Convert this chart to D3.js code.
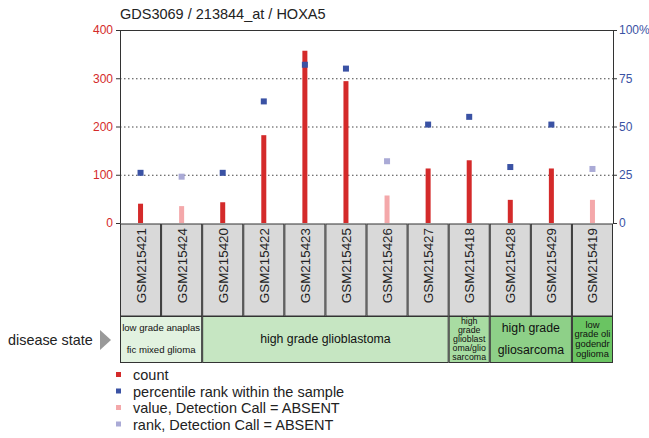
<!DOCTYPE html>
<html><head><meta charset="utf-8">
<script src="https://cdn.jsdelivr.net/npm/d3@7"></script>
<style>body{margin:0;background:#fff;font-family:"Liberation Sans",Arial,sans-serif;} text{font-family:"Liberation Sans",Arial,sans-serif;}</style>
</head><body><svg id="c" width="649" height="438"></svg>
<script>
const samples = ["GSM215421","GSM215424","GSM215420","GSM215422","GSM215423","GSM215425","GSM215426","GSM215427","GSM215418","GSM215428","GSM215429","GSM215419"];
const counts = [40,35,43,182,357,294,57,113,130,48,113,48];
const percentiles = [26,24,26,63,82,80,32,51,55,29,51,28];
const absent = [false,true,false,false,false,false,true,false,false,false,false,true];
const groups = [
  {lines:["low grade anaplas","fic mixed glioma"], n:2, fill:"#e2f2e0", size:9.6},
  {lines:["high grade glioblastoma"], n:6, fill:"#c6e6c2", size:12.3},
  {lines:["high","grade","glioblast","oma/glio","sarcoma"], n:1, fill:"#a8dca2", size:8.8},
  {lines:["high grade","gliosarcoma"], n:2, fill:"#8ed088", size:12.3},
  {lines:["low","grade oli","godendr","oglioma"], n:1, fill:"#6ac462", size:9.4}
];
const leftTicks = [0,100,200,300,400];
const rightTicks = [0,25,50,75,100];
const legendItems = [
  {label:"count", color:"#d42a2a"},
  {label:"percentile rank within the sample", color:"#3a52a4"},
  {label:"value, Detection Call = ABSENT", color:"#f4a8aa"},
  {label:"rank, Detection Call = ABSENT", color:"#aaaad6"}
];

const svg = d3.select("#c");
const L = 120, R = 613, T = 30, B = 223;
const x = d3.scaleBand().domain(samples).range([L, R]);
const y = d3.scaleLinear().domain([0,400]).range([B, T]);
const y2 = d3.scaleLinear().domain([0,100]).range([B, T]);

svg.append("text").attr("x", 120).attr("y", 19).attr("font-size", 14.5).attr("fill", "#222")
  .text("GDS3069 / 213844_at / HOXA5");

// gridlines
svg.append("g").selectAll("line").data([100,200,300]).join("line")
  .attr("x1", L).attr("x2", R).attr("y1", d=>y(d)+0.5).attr("y2", d=>y(d)+0.5)
  .attr("stroke", "#444").attr("stroke-dasharray", "1.5,2.5").attr("stroke-width", 1);

// frame
svg.append("line").attr("x1",L).attr("x2",R).attr("y1",T+0.5).attr("y2",T+0.5).attr("stroke","#333");

// left axis
const la = svg.append("g").attr("transform", `translate(${L},0)`)
  .call(d3.axisLeft(y).tickValues(leftTicks).tickSize(4).tickPadding(3));
la.select(".domain").attr("stroke", "#333");
la.selectAll(".tick line").attr("stroke", "#333");
la.selectAll("text").attr("fill", "#d42a2a").attr("font-size", 12).attr("font-family","Liberation Sans, Arial, sans-serif");

const ra = svg.append("g").attr("transform", `translate(${R},0)`)
  .call(d3.axisRight(y2).tickValues(rightTicks).tickSize(4).tickPadding(2).tickFormat(d=>d===100?"100%":d));
ra.select(".domain").attr("stroke", "#333");
ra.selectAll(".tick line").attr("stroke", "#333");
ra.selectAll("text").attr("fill", "#3a52a4").attr("font-size", 12).attr("font-family","Liberation Sans, Arial, sans-serif");

// bars
const bw = 5;
svg.append("g").selectAll("rect").data(samples).join("rect")
  .attr("x", d=>x(d)+x.bandwidth()/2-bw/2).attr("width", bw)
  .attr("y", (d,i)=>y(counts[i])).attr("height", (d,i)=>B-y(counts[i]))
  .attr("fill", (d,i)=>absent[i]?"#f4a8aa":"#d42a2a");

// percentile squares
const ps = 6;
svg.append("g").selectAll("rect").data(samples).join("rect")
  .attr("x", d=>x(d)+x.bandwidth()/2-ps/2).attr("width", ps)
  .attr("y", (d,i)=>y2(percentiles[i])-ps/2).attr("height", ps)
  .attr("fill", (d,i)=>absent[i]?"#aaaad6":"#3a52a4");

// sample label boxes
const sb = svg.append("g");
samples.forEach(s=>{
  sb.append("rect").attr("x", x(s)+0.5).attr("y", 224).attr("width", x.bandwidth()-1).attr("height", 92)
    .attr("fill", "#d9d9d9").attr("stroke", "#333").attr("stroke-width", 1);
  sb.append("text").attr("transform", `translate(${x(s)+x.bandwidth()/2+5},${228}) rotate(-90)`)
    .attr("text-anchor","end").attr("font-size", 13.4).attr("fill","#222").text(s);
});

// disease state groups
let start = 0;
const gy = 316, gh = 46;
groups.forEach(g=>{
  const x0 = x(samples[start]), x1 = x(samples[start+g.n-1]) + x.bandwidth();
  svg.append("rect").attr("x", x0+0.5).attr("y", gy+0.5).attr("width", x1-x0-1).attr("height", gh)
    .attr("fill", g.fill).attr("stroke", "#333");
  const cx = (x0+x1)/2;
  const nl = g.lines.length;
  let lh;
  if (nl === 1) lh = 0; else if (nl === 2) lh = 22; else lh = g.size+0.3;
  const cy = gy + gh/2;
  g.lines.forEach((t,k)=>{
    svg.append("text").attr("x", cx).attr("y", cy + (k-(nl-1)/2)*lh + g.size*0.35)
      .attr("text-anchor","middle").attr("font-size", g.size).attr("fill","#111")
      .text(t);
  });
  start += g.n;
});

svg.append("text").attr("x", 8).attr("y", 345).attr("font-size", 14.4).attr("fill","#222").text("disease state");
svg.append("path").attr("d", "M100,330 L111,340 L100,350 Z").attr("fill", "#999");

// legend
const lg = svg.append("g");
legendItems.forEach((it,i)=>{
  const yy = 376 + i*16.5;
  lg.append("rect").attr("x", 116).attr("y", yy-4).attr("width", 5).attr("height", 5).attr("fill", it.color);
  lg.append("text").attr("x", 133).attr("y", yy+4).attr("font-size", 14.5).attr("fill","#222").text(it.label);
});
</script></body></html>
